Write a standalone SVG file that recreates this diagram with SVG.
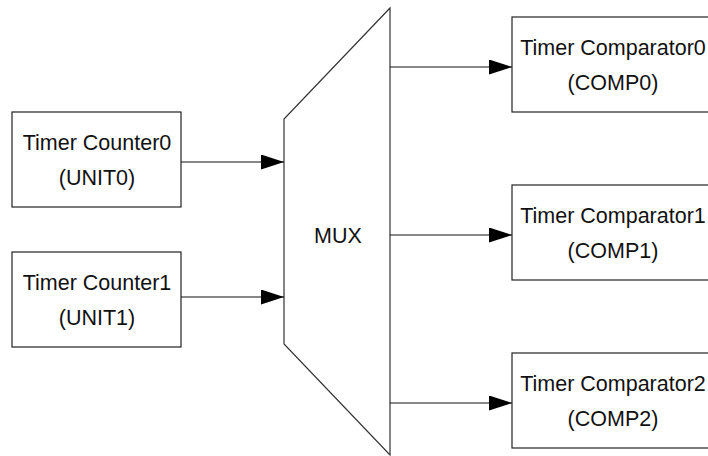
<svg xmlns="http://www.w3.org/2000/svg" width="708" height="456" viewBox="0 0 708 456">
<style>
.box{fill:#fff;stroke:#222;stroke-width:1.2}
.mux{fill:#fff;stroke:#333;stroke-width:1.2}
.t{font-family:"Liberation Sans",Arial,Helvetica,sans-serif;font-size:21.5px;fill:#111;text-anchor:middle}
.c{stroke:#111;stroke-width:1.2;fill:none;marker-end:url(#ah)}
</style>
<defs>
<marker id="ah" viewBox="0 0 23 15" refX="23" refY="7.5" markerWidth="23" markerHeight="15" markerUnits="userSpaceOnUse" orient="auto">
<path d="M0,0 L23,7.5 L0,15 Z" fill="#000"/>
</marker>
</defs>
<rect width="708" height="456" fill="#fff"/>
<g id="mux">
<polygon class="mux" points="390,8 284,119 284,344 390,455"/>
<text class="t" x="338" y="243">MUX</text>
</g>
<g id="unit0">
<rect class="box" x="12" y="112" width="169" height="95"/>
<text class="t" x="97" y="150">Timer Counter0</text>
<text class="t" x="97" y="185">(UNIT0)</text>
</g>
<g id="unit1">
<rect class="box" x="12" y="252" width="169" height="95"/>
<text class="t" x="97" y="290">Timer Counter1</text>
<text class="t" x="97" y="325">(UNIT1)</text>
</g>
<g id="comp0">
<rect class="box" x="512" y="17" width="202" height="95"/>
<text class="t" x="613" y="55">Timer Comparator0</text>
<text class="t" x="613" y="90">(COMP0)</text>
</g>
<g id="comp1">
<rect class="box" x="512" y="185" width="202" height="95"/>
<text class="t" x="613" y="223">Timer Comparator1</text>
<text class="t" x="613" y="258">(COMP1)</text>
</g>
<g id="comp2">
<rect class="box" x="512" y="353" width="202" height="95"/>
<text class="t" x="613" y="391">Timer Comparator2</text>
<text class="t" x="613" y="426">(COMP2)</text>
</g>
<g id="connectors">
<line class="c" x1="181" y1="162" x2="284" y2="162"/>
<line class="c" x1="181" y1="297" x2="284" y2="297"/>
<line class="c" x1="390" y1="67" x2="512" y2="67"/>
<line class="c" x1="390" y1="235" x2="512" y2="235"/>
<line class="c" x1="390" y1="403" x2="512" y2="403"/>
</g>
</svg>
